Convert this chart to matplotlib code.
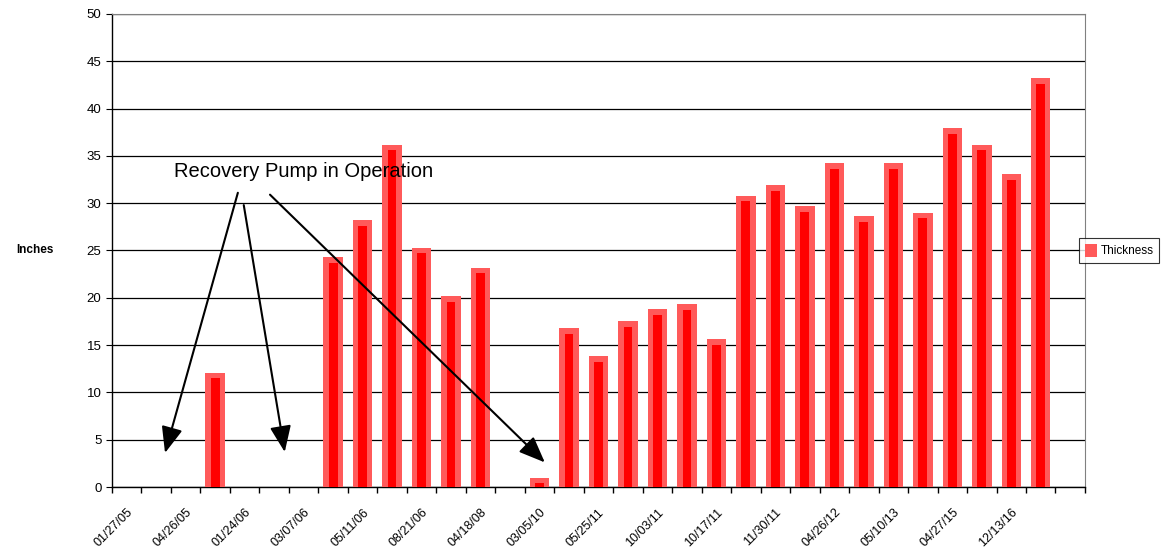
import matplotlib
matplotlib.use("Agg")
import matplotlib.pyplot as plt
import numpy as np

plt.rcParams['font.family'] = ['Liberation Sans', 'DejaVu Sans']

# 33 categories; zero where no bar
thickness = [0, 0, 0, 12.1, 0, 0, 0, 24.3, 28.2, 36.2, 25.3, 20.2, 23.2, 0,
             1.0, 16.8, 13.8, 17.5, 18.8, 19.3, 15.6, 30.8, 31.9, 29.7, 34.2,
             28.6, 34.2, 29.0, 37.9, 36.2, 33.1, 43.2, 0]
tick_labels = ["01/27/05", "04/26/05", "01/24/06", "03/07/06", "05/11/06",
               "08/21/06", "04/18/08", "03/05/10", "05/25/11", "10/03/11",
               "10/17/11", "11/30/11", "04/26/12", "05/10/13", "04/27/15",
               "12/13/16"]
series_name = "Thickness"
annotation = "Recovery Pump in Operation"

fig = plt.figure(figsize=(11.76, 5.59), dpi=100)
ax = fig.add_axes([0.0952, 0.1288, 0.8274, 0.8462])

x = np.arange(len(thickness))
vals = np.array(thickness, dtype=float)
mask = vals > 0
ax.bar(x[mask], vals[mask], width=0.66, color='#ff5a5a', edgecolor='none',
       zorder=3, label=series_name)
ax.bar(x[mask], vals[mask] - 0.6, width=0.3, color='#ff0000',
       edgecolor='none', zorder=4)

ax.set_xlim(-0.5, len(thickness) - 0.5)
ax.set_ylim(0, 50)
ax.set_yticks(np.arange(0, 51, 5))
ax.yaxis.grid(True, color='black', linewidth=0.9, zorder=1)
ax.set_axisbelow(True)

ax.set_xticks(np.arange(0, 31, 2))
ax.set_xticklabels(tick_labels, rotation=45, ha='right', rotation_mode='anchor',
                   fontsize=9)
ax.tick_params(axis='x', which='major', length=0, pad=14)
for lbl in ax.get_xticklabels():
    lbl.set_x(lbl.get_position()[0])
ax.set_xticks(np.arange(-0.5, len(thickness), 1), minor=True)
ax.tick_params(axis='x', which='minor', length=4, width=1, direction='out')
ax.tick_params(axis='y', labelsize=9.5, length=4, direction='out')

for s in ['top', 'right']:
    ax.spines[s].set_color('#808080')
for s in ['left', 'bottom']:
    ax.spines[s].set_color('black')
    ax.spines[s].set_linewidth(1.0)

fig.text(0.03, 0.552, "Inches", fontsize=8.5, fontweight='bold', ha='center',
         va='center')

ax.text(6.0, 33.3, annotation, fontsize=14.5, ha='center', va='center', zorder=6)
arrows = [((3.77, 31.1), (1.30, 3.6)),
          ((3.97, 29.8), (5.36, 3.7)),
          ((4.86, 30.9), (14.18, 2.6))]
for (sx, sy), (ex, ey) in arrows:
    ax.annotate("", xy=(ex, ey), xytext=(sx, sy),
                arrowprops=dict(arrowstyle='-|>,head_length=1.6,head_width=0.65',
                                color='black', lw=1.5, shrinkA=0, shrinkB=0),
                zorder=6)

leg = ax.legend(loc='center left', bbox_to_anchor=(0.988, 0.5), frameon=True,
                fancybox=False, edgecolor='black', fontsize=8.5,
                handlelength=1.0, handleheight=1.3, borderpad=0.5,
                handletextpad=0.3, borderaxespad=0.5)
leg.get_frame().set_linewidth(0.8)

fig.savefig("out.png", dpi=100)
